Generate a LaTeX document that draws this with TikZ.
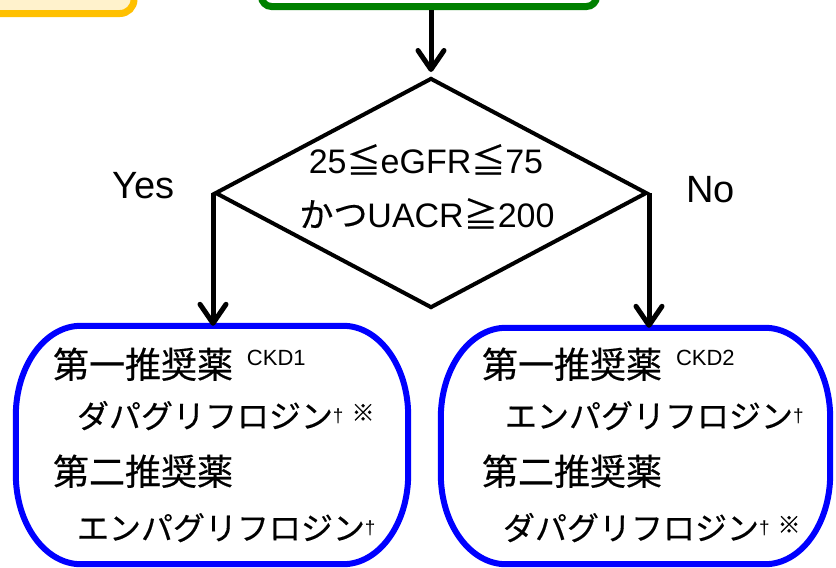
\documentclass[tikz,border=0pt]{standalone}
\usepackage{fontspec}
\setmainfont{Liberation Sans}
\newfontfamily\cjk[FakeBold=0.4]{Noto Sans CJK JP}
\usetikzlibrary{arrows.meta,shapes.geometric}
\definecolor{yelbd}{HTML}{FFC000}
\definecolor{yelfill}{HTML}{FFF2CC}
\definecolor{grnbd}{HTML}{008000}
\definecolor{blubd}{HTML}{0000FF}
\newcommand\pillbox[1]{%
  \draw[bluebox] ([xshift=65pt]#1.north west) -- ([xshift=-65pt]#1.north east)
    arc[start angle=90,end angle=0,x radius=65pt,y radius=90pt]
    -- ([yshift=90pt]#1.south east)
    arc[start angle=0,end angle=-90,x radius=65pt,y radius=90pt]
    -- ([xshift=65pt]#1.south west)
    arc[start angle=270,end angle=180,x radius=65pt,y radius=90pt]
    -- ([yshift=-90pt]#1.north west)
    arc[start angle=180,end angle=90,x radius=65pt,y radius=90pt] -- cycle;}
\newcommand\kj{\cjk\fontsize{36}{36}\selectfont}
\newcommand\kt{\cjk\fontsize{32}{32}\selectfont}
\newcommand\ckd[1]{\hspace{14pt}\raisebox{13pt}{\fontsize{22}{22}\selectfont #1}}
\newcommand\dg{\raisebox{6pt}{\fontsize{19}{19}\selectfont \char"2020}}
\newcommand\kome{\hspace{8pt}\raisebox{7pt}{\cjk\fontsize{23}{23}\selectfont ※}}
\begin{document}
\begin{tikzpicture}[x=1pt,y=-1pt,
  arr/.style={line width=5pt,-{Straight Barb[length=19pt,width=26pt,round]}},
  bluebox/.style={draw=blubd,line width=6pt},
  txt/.style={anchor=base west,inner sep=0pt,outer sep=0pt},
  ctxt/.style={anchor=base,inner sep=0pt,outer sep=0pt,font=\fontsize{34}{34}\selectfont},
  lbl/.style={anchor=base west,inner sep=0pt,font=\fontsize{38}{38}\selectfont}]
\useasboundingbox (0,0) rectangle (836,568);
\fill[white] (0,0) rectangle (836,568);
\clip (0,0) rectangle (836,568);
% partial top boxes
\node[draw=yelbd,fill=yelfill,line width=7pt,rounded corners=14pt,
  minimum width=180pt,minimum height=60pt,inner sep=0pt] (y0) at (44,-16.5) {};
\node[draw=grnbd,fill=white,line width=7pt,rounded corners=10pt,
  minimum width=335pt,minimum height=40pt,inner sep=0pt] (g0) at (429,-13.5) {};
% decision
\node[draw,diamond,line width=4pt,minimum width=432pt,minimum height=230pt,
  inner sep=0pt] (d) at (431,193) {};
\node[ctxt] (dt1) at (426,173) {25{\cjk ≦}eGFR{\cjk ≦}75};
\node[ctxt] (dt2) at (427,227) {{\cjk かつ}UACR{\cjk ≧}200};
\node[lbl] (yes) at (112,198) {Yes};
\node[lbl] (no) at (686,202) {No};
% result boxes
\node[minimum width=392pt,minimum height=238pt,inner sep=0pt] (lb) at (212,445) {};
\node[minimum width=389pt,minimum height=236pt,inner sep=0pt] (rb) at (635.5,446) {};
\pillbox{lb}
\pillbox{rb}
% arrows
\draw[arr,shorten >=4pt] (d.north |- g0.south) -- (d.north);
\draw[arr] (d.west) -- (d.west |- lb.north);
\draw[arr] (d.east) -- (d.east |- rb.north);
% left text
\node[txt] (l1) at (53,378) {{\kj 第一推奨薬}\ckd{CKD1}};
\node[txt] (l2) at (77,428) {{\kt ダパグリフロジン}\dg\kome};
\node[txt] (l3) at (53,485) {\kj 第二推奨薬};
\node[txt] (l4) at (77,540) {{\kt エンパグリフロジン}\dg};
% right text
\node[txt] (r1) at (482,378) {{\kj 第一推奨薬}\ckd{CKD2}};
\node[txt] (r2) at (505,428) {{\kt エンパグリフロジン}\dg};
\node[txt] (r3) at (482,485) {\kj 第二推奨薬};
\node[txt] (r4) at (503,540) {{\kt ダパグリフロジン}\dg\kome};
\end{tikzpicture}
\end{document}
